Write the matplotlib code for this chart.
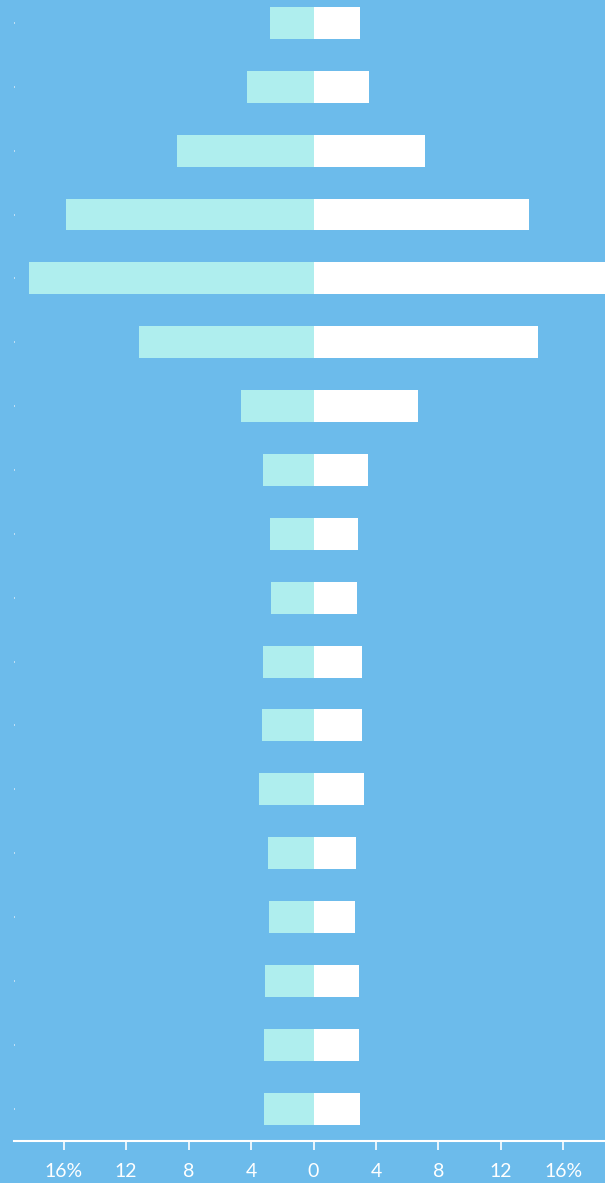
import numpy as np
import matplotlib.pyplot as plt

# share per row (%), left side and right side
left_vals = [2.78, 4.26, 8.74, 15.86, 18.23, 11.18, 4.64, 3.23, 2.78,
             2.72, 3.23, 3.29, 3.49, 2.91, 2.85, 3.10, 3.17, 3.17]
right_vals = [2.99, 3.56, 7.15, 13.82, 19.50, 14.40, 6.70, 3.50, 2.86,
              2.79, 3.12, 3.12, 3.24, 2.73, 2.67, 2.92, 2.92, 2.99]
categories = [""] * len(left_vals)
tick_vals = [-16, -12, -8, -4, 0, 4, 8, 12, 16]
tick_labels = ["16%", "12", "8", "4", "0", "4", "8", "12", "16%"]

bg = "#6cbbeb"
W, H = 605, 1183
fig = plt.figure(figsize=(W / 100, H / 100), dpi=100, facecolor=bg)
ax = fig.add_axes([14 / W, (H - 1140.5) / H, 591 / W, (1140.5 + 9) / H])
ax.set_facecolor(bg)

y = np.arange(len(left_vals))
ax.barh(y, -np.array(left_vals), height=0.5, color="#afeeee", linewidth=0)
ax.barh(y, right_vals, height=0.5, color="white", linewidth=0)

ax.set_xlim((14 - 313.5) / 15.61, (605 - 313.5) / 15.61)
ax.set_ylim(len(left_vals) - 0.5, -0.5)

for s in ["top", "right", "left"]:
    ax.spines[s].set_visible(False)
ax.spines["bottom"].set_color("white")
ax.spines["bottom"].set_linewidth(1.5)

ax.set_xticks(tick_vals)
ax.set_xticklabels(tick_labels, fontfamily="Lato", fontweight="normal",
                   fontsize=14, color="white")
ax.tick_params(axis="x", length=6.5, width=1.2, color="white", pad=10)
ax.set_yticks(y)
ax.set_yticklabels(categories)
ax.tick_params(axis="y", length=1, width=1.2, color="#cfe6f7", direction="in")

fig.savefig("out.png", dpi=100, facecolor=bg)
